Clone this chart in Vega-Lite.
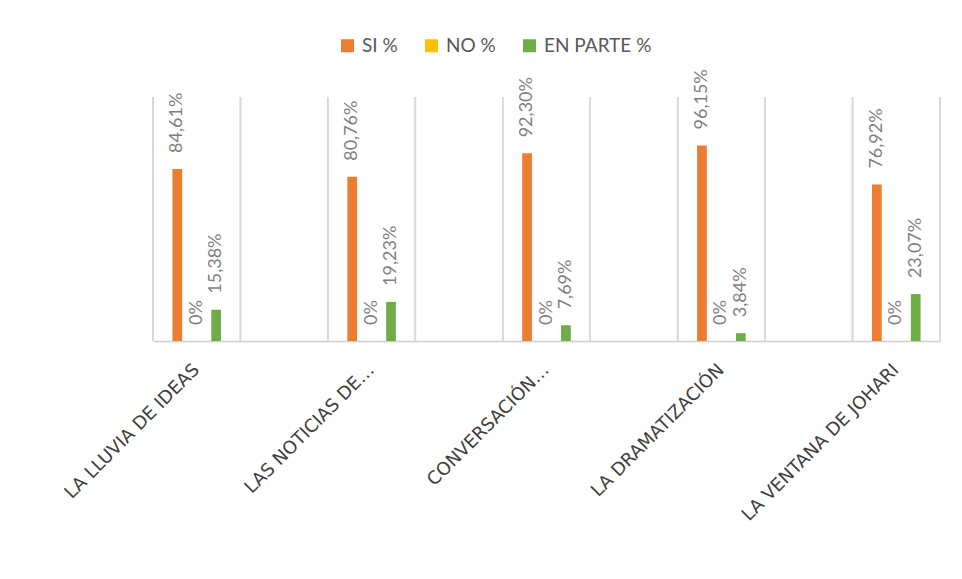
{
  "$schema": "https://vega.github.io/schema/vega-lite/v6.json",
  "width": 787,
  "height": 244,
  "autosize": "none",
  "padding": {"left": 153, "top": 97, "right": 22, "bottom": 238},
  "background": "white",
  "config": {"view": {"strokeWidth": 0}},
  "data": {
    "values": [
      {"categoria": "LA LLUVIA DE IDEAS", "serie": "SI %", "valor": 0.8461},
      {"categoria": "LA LLUVIA DE IDEAS", "serie": "NO %", "valor": 0},
      {"categoria": "LA LLUVIA DE IDEAS", "serie": "EN PARTE %", "valor": 0.1538},
      {"categoria": "LAS NOTICIAS DE…", "serie": "SI %", "valor": 0.8076},
      {"categoria": "LAS NOTICIAS DE…", "serie": "NO %", "valor": 0},
      {"categoria": "LAS NOTICIAS DE…", "serie": "EN PARTE %", "valor": 0.1923},
      {"categoria": "CONVERSACIÓN…", "serie": "SI %", "valor": 0.923},
      {"categoria": "CONVERSACIÓN…", "serie": "NO %", "valor": 0},
      {"categoria": "CONVERSACIÓN…", "serie": "EN PARTE %", "valor": 0.0769},
      {"categoria": "LA DRAMATIZACIÓN", "serie": "SI %", "valor": 0.9615},
      {"categoria": "LA DRAMATIZACIÓN", "serie": "NO %", "valor": 0},
      {"categoria": "LA DRAMATIZACIÓN", "serie": "EN PARTE %", "valor": 0.0384},
      {"categoria": "LA VENTANA DE JOHARI", "serie": "SI %", "valor": 0.7692},
      {"categoria": "LA VENTANA DE JOHARI", "serie": "NO %", "valor": 0},
      {"categoria": "LA VENTANA DE JOHARI", "serie": "EN PARTE %", "valor": 0.2307}
    ]
  },
  "layer": [
    {
      "mark": {"type": "rule", "color": "#d9d9d9", "strokeWidth": 1.5},
      "encoding": {
        "x": {"field": "categoria", "type": "nominal", "sort": null, "bandPosition": 0}
      }
    },
    {
      "mark": {"type": "rule", "color": "#d9d9d9", "strokeWidth": 1.5},
      "encoding": {
        "x": {"field": "categoria", "type": "nominal", "sort": null, "bandPosition": 1}
      }
    },
    {
      "mark": {"type": "bar"},
      "encoding": {
        "x": {
          "field": "categoria",
          "type": "nominal",
          "sort": null,
          "scale": {"paddingInner": 0.5, "paddingOuter": 0},
          "axis": {
            "title": null,
            "labelAngle": -45,
            "labelAlign": "right",
            "labelBaseline": "middle",
            "labelPadding": 26,
            "labelFont": "DejaVu Sans",
            "labelFontSize": 18,
            "labelColor": "#404040",
            "labelLimit": 400,
            "ticks": false,
            "grid": false,
            "domainColor": "#cfcfcf",
            "domainWidth": 1.5
          }
        },
        "xOffset": {
          "field": "serie",
          "type": "nominal",
          "sort": ["SI %", "NO %", "EN PARTE %"],
          "scale": {"paddingInner": 0.5, "paddingOuter": 1.178}
        },
        "y": {
          "field": "valor",
          "type": "quantitative",
          "scale": {"domain": [0, 1.2]},
          "axis": null
        },
        "color": {
          "field": "serie",
          "type": "nominal",
          "sort": ["SI %", "NO %", "EN PARTE %"],
          "scale": {"range": ["#ED7D31", "#FFC000", "#70AD47"]},
          "legend": {
            "title": null,
            "orient": "none",
            "direction": "horizontal",
            "legendX": 185,
            "legendY": -61,
            "symbolType": "square",
            "symbolSize": 169,
            "symbolStrokeWidth": 0,
            "labelFont": "Lato",
            "labelFontSize": 19,
            "labelColor": "#595959",
            "labelOffset": 5,
            "columnPadding": 24
          }
        }
      }
    },
    {
      "transform": [
        {"calculate": "datum.valor == 0 ? '0%' : replace(format(datum.valor, '.2%'), '.', ',')", "as": "etiqueta"}
      ],
      "mark": {
        "type": "text",
        "angle": 270,
        "align": "left",
        "baseline": "middle",
        "dx": 16,
        "font": "Lato",
        "fontSize": 18,
        "color": "#7f7f7f"
      },
      "encoding": {
        "x": {"field": "categoria", "type": "nominal", "sort": null},
        "xOffset": {"field": "serie", "type": "nominal", "sort": ["SI %", "NO %", "EN PARTE %"]},
        "y": {"field": "valor", "type": "quantitative"},
        "text": {"field": "etiqueta"}
      }
    }
  ]
}
